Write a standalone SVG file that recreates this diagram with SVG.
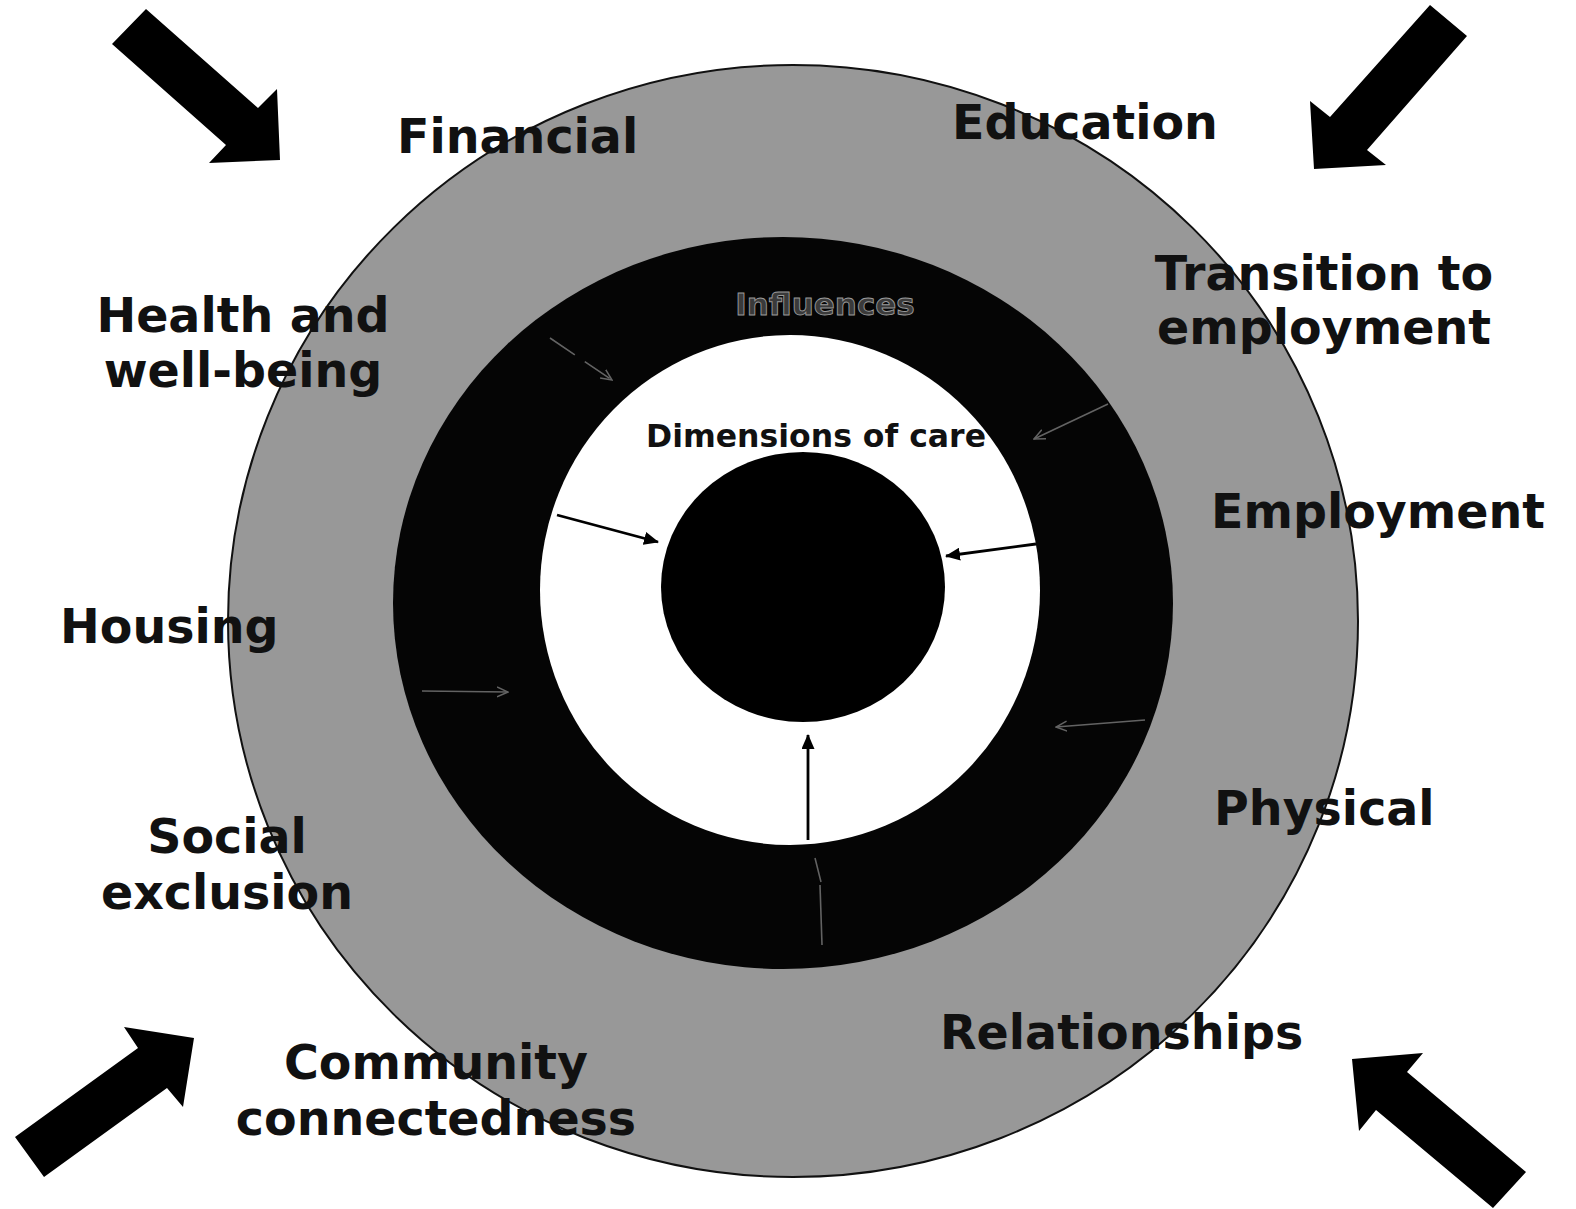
<svg xmlns="http://www.w3.org/2000/svg" width="1576" height="1209" viewBox="0 0 1576 1209">
  <defs>
    <style>
      .lbl { font-family: "DejaVu Sans", Verdana, "Liberation Sans", sans-serif; font-weight: bold; font-size: 47.5px; fill: #111; }
      .big-arrow { fill: #000; }
      .link { stroke: #000; stroke-width: 2.8; fill: none; }
      .faint { stroke: #8c8c8c; stroke-width: 1.6; fill: none; opacity: 0.7; }
    </style>
    <marker id="ah" markerWidth="15" markerHeight="13" refX="14" refY="6.5" orient="auto" markerUnits="userSpaceOnUse" viewBox="0 0 15 13">
      <path d="M0,0 L15,6.5 L0,13 z" fill="#000"/>
    </marker>
    <marker id="ahf" markerWidth="12" markerHeight="12" refX="11" refY="6" orient="auto" markerUnits="userSpaceOnUse" viewBox="0 0 12 12">
      <path d="M0,1 L11,6 L0,11" fill="none" stroke="#8c8c8c" stroke-width="1.5"/>
    </marker>
  </defs>

  <rect x="0" y="0" width="1576" height="1209" fill="#fff"/>

  <!-- corner arrows -->
  <g id="corner-arrows">
    <polygon class="big-arrow" points="146,9 258,108 277,89 280,160 209,163 226,145 112,44"/>
    <polygon class="big-arrow" points="1430,5 1467,36 1367,150 1386,165 1314,169 1310,101 1330,117"/>
    <polygon class="big-arrow" points="15,1137 138,1048 124,1027 194,1038 183,1107 167,1088 44,1177"/>
    <polygon class="big-arrow" points="1352,1059 1423,1053 1407,1072 1526,1172 1493,1208 1376,1110 1359,1131"/>
  </g>

  <!-- rings -->
  <g id="outer-ring">
    <ellipse cx="793" cy="621" rx="565" ry="556" fill="#989898" stroke="#111" stroke-width="2"/>
  </g>
  <g id="influences-ring">
    <ellipse cx="783" cy="603" rx="390" ry="366" fill="#050505"/>
    <text x="825" y="315" text-anchor="middle" font-family="DejaVu Sans, Verdana, sans-serif" font-weight="bold" font-size="31" fill="#3a3a3a" stroke="#9a9a9a" stroke-width="0.9">Influences</text>
  </g>
  <g id="dimensions">
    <ellipse cx="790" cy="590" rx="250" ry="255" fill="#fff"/>
    <text x="816" y="447" text-anchor="middle" font-family="DejaVu Sans, Verdana, sans-serif" font-weight="bold" font-size="31.5" fill="#111">Dimensions of care</text>
  </g>
  <g id="core">
    <ellipse cx="803" cy="587" rx="142" ry="135" fill="#000"/>
  </g>

  <!-- connectors -->
  <g id="connectors">
    <line class="link" x1="557" y1="515" x2="658" y2="542" marker-end="url(#ah)"/>
    <line class="link" x1="1036" y1="544" x2="946" y2="556" marker-end="url(#ah)"/>
    <line class="link" x1="808" y1="840" x2="808" y2="735" marker-end="url(#ah)"/>
    <line class="faint" x1="550" y1="338" x2="612" y2="380" stroke-dasharray="30 12" marker-end="url(#ahf)"/>
    <line class="faint" x1="1108" y1="404" x2="1034" y2="439" marker-end="url(#ahf)"/>
    <line class="faint" x1="422" y1="691" x2="508" y2="692" marker-end="url(#ahf)"/>
    <line class="faint" x1="1145" y1="720" x2="1056" y2="727" marker-end="url(#ahf)"/>
    <line class="faint" x1="822" y1="945" x2="820" y2="885"/>
    <line class="faint" x1="821" y1="882" x2="815" y2="858"/>
  </g>

  <!-- labels -->
  <g id="financial"><text class="lbl" x="397" y="153">Financial</text></g>
  <g id="education"><text class="lbl" x="952" y="139">Education</text></g>
  <g id="health"><text class="lbl" text-anchor="middle" x="243" y="332">Health and<tspan x="243" y="387">well-being</tspan></text></g>
  <g id="transition"><text class="lbl" text-anchor="middle" x="1324" y="290">Transition to<tspan x="1324" y="344">employment</tspan></text></g>
  <g id="employment"><text class="lbl" x="1211" y="528">Employment</text></g>
  <g id="housing"><text class="lbl" x="60" y="643">Housing</text></g>
  <g id="physical"><text class="lbl" x="1214" y="825">Physical</text></g>
  <g id="social"><text class="lbl" text-anchor="middle" x="227" y="853">Social<tspan x="227" y="909">exclusion</tspan></text></g>
  <g id="relationships"><text class="lbl" x="940" y="1049">Relationships</text></g>
  <g id="community"><text class="lbl" text-anchor="middle" x="436" y="1079">Community<tspan x="436" y="1135">connectedness</tspan></text></g>
</svg>
